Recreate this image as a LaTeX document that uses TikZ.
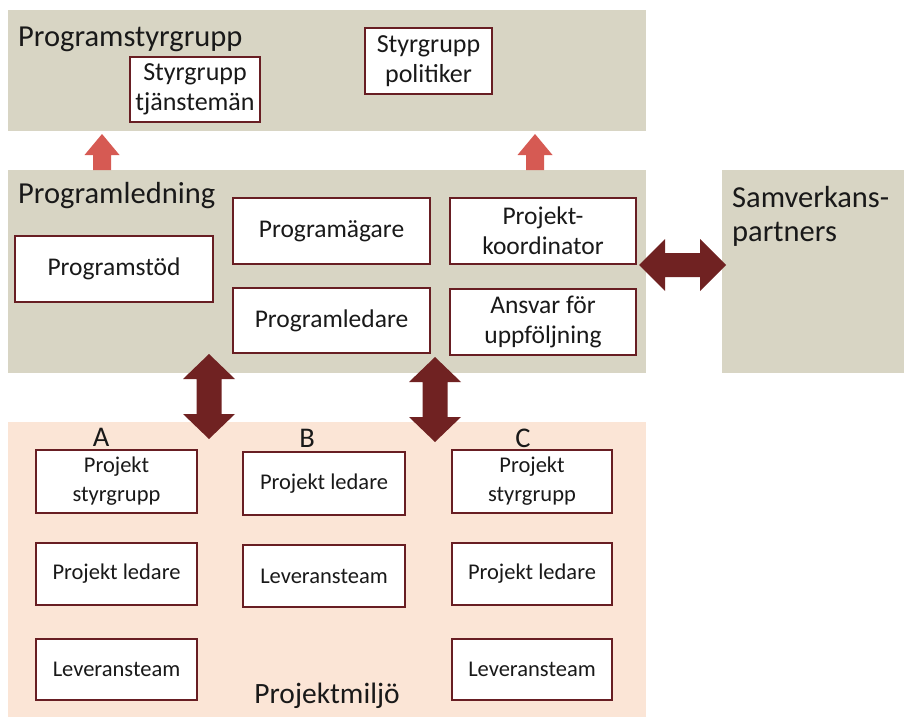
\documentclass[tikz,border=0pt]{standalone}
\usepackage{fontspec}
\setmainfont{Carlito}
\definecolor{beige}{RGB}{216,213,196}
\definecolor{peach}{RGB}{251,229,214}
\definecolor{maroon}{RGB}{112,34,34}
\definecolor{redarr}{RGB}{214,90,83}
\definecolor{boxc}{RGB}{104,30,35}
\definecolor{txt}{RGB}{25,25,25}
\tikzset{
  box/.style={draw=boxc, line width=2pt, fill=white, align=center, inner sep=0pt, text=txt},
  topbox/.style={box, font=\fontsize{26}{30}\selectfont},
  midbox/.style={box, font=\fontsize{25.5}{30}\selectfont},
  lowbox/.style={box, font=\fontsize{22.5}{29}\selectfont},
  title/.style={inner sep=0pt, text=txt, font=\fontsize{30.5}{34}\selectfont},
  subtitle/.style={inner sep=0pt, text=txt, font=\fontsize{29.5}{34}\selectfont},
  letter/.style={inner sep=0pt, text=txt, font=\fontsize{28.5}{32}\selectfont},
  vdarr/.pic={\fill[maroon] (0,-42.5) -- (26,-17.5) -- (12.5,-17.5) -- (12.5,17.5) -- (26,17.5) -- (0,42.5) -- (-26,17.5) -- (-12.5,17.5) -- (-12.5,-17.5) -- (-26,-17.5) -- cycle;},
  hdarr/.pic={\fill[maroon] (-43.5,0) -- (-17.5,-26) -- (-17.5,-12) -- (17.5,-12) -- (17.5,-26) -- (43.5,0) -- (17.5,26) -- (17.5,12) -- (-17.5,12) -- (-17.5,26) -- cycle;},
  uparr/.pic={\fill[redarr] (0,0) -- (17.5,21) -- (9,21) -- (9,36) -- (-9,36) -- (-9,21) -- (-17.5,21) -- cycle;}
}
\begin{document}
\begin{tikzpicture}[x=1pt,y=-1pt]
\useasboundingbox (0,0) rectangle (904,717);
% panels
\fill[beige] (8,10) rectangle (646,131);
\fill[beige] (8,170) rectangle (646,373);
\fill[beige] (722,170) rectangle (904,373);
\fill[peach] (8,422) rectangle (646,717);
% titles
\node[title, anchor=base west] (tstyr) at (18,47) {Programstyrgrupp};
\node[title, anchor=base west] (tled) at (18,203) {Programledning};
\node[title, anchor=base west] (tsam) at (732,207) {Samverkans-};
\node[title, anchor=base west] (tpart) at (732,241) {partners};
\node[subtitle, anchor=base] (tmiljo) at (327,703) {Projektmiljö};
% top boxes
\node[topbox, minimum width=130pt, minimum height=65pt] (tjan) at (195,89.5) {Styrgrupp\\tjänstemän};
\node[topbox, minimum width=127pt, minimum height=65pt] (pol) at (428.5,61) {Styrgrupp\\politiker};
% middle boxes
\node[midbox, minimum width=198pt, minimum height=66pt] (stod) at (114,269) {Programstöd};
\node[midbox, minimum width=197pt, minimum height=66pt] (agare) at (331.5,231) {Programägare};
\node[midbox, minimum width=197pt, minimum height=65pt] (ledare) at (331.5,320.5) {Programledare};
\node[midbox, minimum width=186pt, minimum height=66pt] (koord) at (543,231) {Projekt-\\koordinator};
\node[midbox, minimum width=186pt, minimum height=66pt] (ansvar) at (543,322) {Ansvar för\\uppföljning};
% letters
\node[letter, anchor=base] (lA) at (101,446) {A};
\node[letter, anchor=base] (lB) at (307,447) {B};
\node[letter, anchor=base] (lC) at (523,447) {C};
% project boxes
\node[lowbox, minimum width=161pt, minimum height=63pt] (a1) at (116.5,481.5) {Projekt\\styrgrupp};
\node[lowbox, minimum width=161pt, minimum height=62pt] (a2) at (116.5,574) {Projekt ledare};
\node[lowbox, minimum width=161pt, minimum height=61pt] (a3) at (116.5,669.5) {Leveransteam};
\node[lowbox, minimum width=162pt, minimum height=63pt] (b1) at (324,483.5) {Projekt ledare};
\node[lowbox, minimum width=162pt, minimum height=62pt] (b2) at (324,576) {Leveransteam};
\node[lowbox, minimum width=160pt, minimum height=63pt] (c1) at (532,481.5) {Projekt\\styrgrupp};
\node[lowbox, minimum width=160pt, minimum height=62pt] (c2) at (532,574) {Projekt ledare};
\node[lowbox, minimum width=160pt, minimum height=61pt] (c3) at (532,669.5) {Leveransteam};
% arrows
\coordinate (up1) at (102,134);
\coordinate (up2) at (535,134);
\pic at (up1) {uparr};
\pic at (up2) {uparr};
\coordinate (v1) at (209,396.5);
\coordinate (v2) at (435,399.5);
\pic at (v1) {vdarr};
\pic at (v2) {vdarr};
\coordinate (h1) at (682.5,265);
\pic at (h1) {hdarr};
\end{tikzpicture}
\end{document}
